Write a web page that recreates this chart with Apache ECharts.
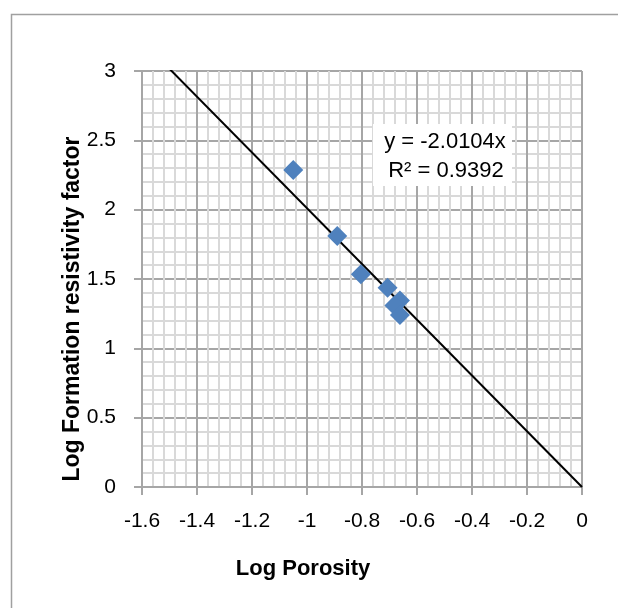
<!DOCTYPE html>
<html>
<head>
<meta charset="utf-8">
<script src="https://cdn.jsdelivr.net/npm/echarts@6/dist/echarts.min.js"></script>
<style>html,body{margin:0;padding:0;background:#fff;}#c{width:618px;height:608px;}</style>
</head>
<body>
<div id="c"></div>
<script>
// Data
var logPorosity = [-1.050, -0.890, -0.804, -0.707, -0.662, -0.682, -0.662];
var logFactor   = [2.286, 1.810, 1.534, 1.437, 1.345, 1.309, 1.240];
var trendSlope = -2.0104;
var trendR2 = 0.9392;
var xTitle = 'Log Porosity';
var yTitle = 'Log Formation resistivity factor';

var pts = logPorosity.map(function(x, i){ return [x, logFactor[i]]; });
var trendLine = [[-1.6, trendSlope * -1.6], [0, 0]];

var chart = echarts.init(document.getElementById('c'), null, {renderer: 'canvas'});
var font = '"Liberation Sans", Arial, sans-serif';
chart.setOption({
  animation: false,
  backgroundColor: '#fff',
  grid: {left: 142, top: 71, width: 440, height: 416, containLabel: false},
  xAxis: {
    type: 'value', min: -1.6, max: 0, interval: 0.2,
    axisLine: {show: true, onZero: false, lineStyle: {color: '#a6a6a6', width: 2}},
    axisTick: {show: true, inside: false, length: 8, lineStyle: {color: '#a6a6a6', width: 2}},
    minorTick: {show: false, splitNumber: 5},
    splitLine: {show: true, lineStyle: {color: '#a6a6a6', width: 2}},
    minorSplitLine: {show: true, lineStyle: {color: '#d9d9d9', width: 2}},
    axisLabel: {margin: 24, fontSize: 21, color: '#000', fontFamily: font}
  },
  yAxis: {
    type: 'value', min: 0, max: 3, interval: 0.5,
    axisLine: {show: true, onZero: false, lineStyle: {color: '#a6a6a6', width: 2}},
    axisTick: {show: true, inside: false, length: 8, lineStyle: {color: '#a6a6a6', width: 2}},
    minorTick: {show: false, splitNumber: 5},
    splitLine: {show: true, lineStyle: {color: '#a6a6a6', width: 2}},
    minorSplitLine: {show: true, lineStyle: {color: '#d9d9d9', width: 2}},
    axisLabel: {margin: 26, fontSize: 21, color: '#000', fontFamily: font}
  },
  series: [
    {
      type: 'line', data: trendLine, symbol: 'none', clip: true,
      lineStyle: {color: '#000', width: 2}, z: 3
    },
    {
      type: 'scatter', data: pts, symbol: 'diamond', symbolSize: 20,
      itemStyle: {color: '#4F81BD', opacity: 1}, z: 4
    }
  ],
  graphic: [
    {type: 'rect', left: 9, top: 12, shape: {x: 0.5, y: 0.5, width: 700, height: 700},
     style: {fill: 'none', stroke: '#a0a0a0', lineWidth: 1.5}, z: 0, silent: true},
    {type: 'rect', shape: {x: 373, y: 124, width: 139, height: 62},
     style: {fill: '#fff', stroke: 'none'}, z: 10},
    {type: 'text', x: 445, y: 142, z: 11,
     style: {text: 'y = ' + trendSlope.toFixed(4) + 'x', fill: '#000', font: '22px ' + font, textAlign: 'center', textVerticalAlign: 'middle'}},
    {type: 'text', x: 446, y: 171, z: 11,
     style: {text: 'R\u00b2 = ' + trendR2.toFixed(4), fill: '#000', font: '22px ' + font, textAlign: 'center', textVerticalAlign: 'middle'}},
    {type: 'text', x: 303, y: 569, z: 11,
     style: {text: xTitle, fill: '#000', font: 'bold 22px ' + font, textAlign: 'center', textVerticalAlign: 'middle'}},
    {type: 'text', x: 73, y: 309, rotation: Math.PI / 2, z: 11,
     style: {text: yTitle, fill: '#000', font: 'bold 23px ' + font, textAlign: 'center', textVerticalAlign: 'middle'}}
  ]
});
</script>
</body>
</html>
